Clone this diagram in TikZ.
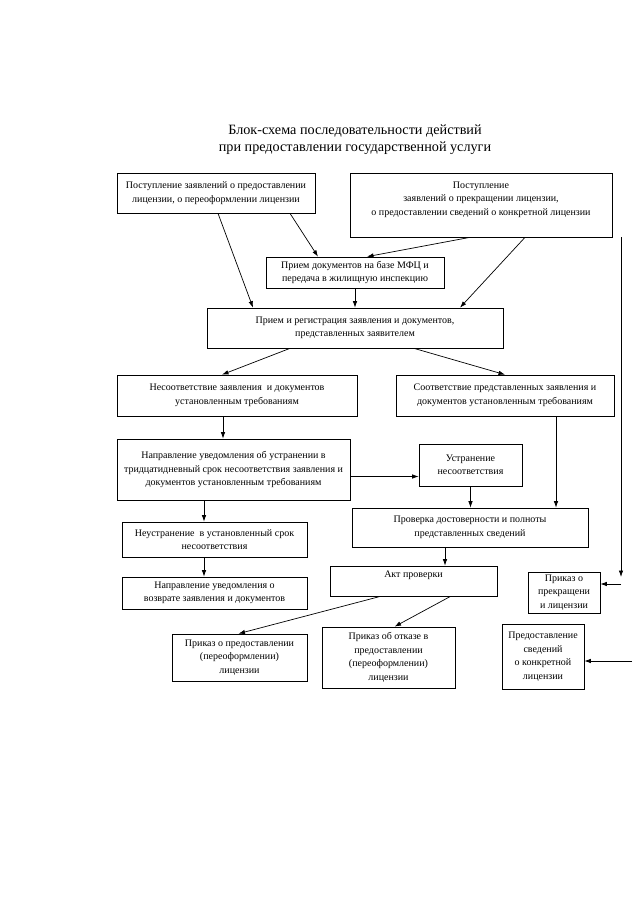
\documentclass[tikz,border=0pt]{standalone}
\usepackage{fontspec}
\setmainfont{Liberation Serif}
\usetikzlibrary{arrows,arrows.meta,positioning}

\begin{document}
\begin{tikzpicture}
[x=1pt,y=-1pt,>={Latex[length=6.5pt,width=4.5pt]},
 box/.style={draw=black,line width=0.7pt,align=center,inner sep=2pt,
    font=\fontsize{10}{13.5}\selectfont},
 arr/.style={->,line width=0.7pt}]
\useasboundingbox (0,0) rectangle (640,905);

\node (title) at (355,139.5) [align=center,font=\fontsize{14.2}{17}\selectfont]
{Блок-схема последовательности действий\\при предоставлении государственной услуги};

\node[box,minimum width=198,minimum height=40] (a1) at (216,193)
{Поступление заявлений о предоставлении\\лицензии, о переоформлении лицензии};
\node[box,minimum width=262,minimum height=64] (a2) at (481,205)
{Поступление\\заявлений о прекращении лицензии,\\о предоставлении сведений о конкретной лицензии\\ \mbox{}};
\node[box,minimum width=178,minimum height=31] (mfc) at (355,272.5)
{Прием документов на базе МФЦ и\\передача в жилищную инспекцию};
\node[box,minimum width=296,minimum height=40] (reg) at (355,328)
{Прием и регистрация заявления и документов,\\представленных заявителем};

\node[box,minimum width=240,minimum height=41] (no) at (237,395.5)
{Несоответствие заявления \ и документов\\установленным требованиям};
\node[box,minimum width=218,minimum height=41] (yes) at (505,395.5)
{Соответствие представленных заявления и\\документов установленным требованиям};
\node[box,minimum width=233,minimum height=61] (notif) at (233.5,469.5)
{Направление уведомления об устранении в\\тридцатидневный срок несоответствия заявления и\\документов установленным требованиям};
\node[box,minimum width=103,minimum height=42] (fix) at (470.5,465)
{Устранение\\несоответствия};
\node[box,minimum width=236,minimum height=39] (check) at (470,527.5)
{Проверка достоверности и полноты\\представленных сведений};
\node[box,minimum width=185,minimum height=35] (nofix) at (214.5,539.5)
{Неустранение \ в установленный срок\\несоответствия};
\node[box,minimum width=185,minimum height=32] (ret) at (214.5,593)
{Направление уведомления о\\возврате заявления и документов};
\node[box,minimum width=167,minimum height=30] (act) at (413.5,581)
{Акт проверки\\ \mbox{}};
\node[box,minimum width=72,minimum height=41] (stop) at (564,592.5)
{Приказ о\\прекращени\\и лицензии};
\node[box,minimum width=135,minimum height=47] (give) at (239.5,657.5)
{Приказ о предоставлении\\(переоформлении)\\лицензии};
\node[box,minimum width=133,minimum height=61] (deny) at (388.5,657.5)
{Приказ об отказе в\\предоставлении\\(переоформлении)\\лицензии};
\node[box,minimum width=82,minimum height=65] (info) at (543,656.5)
{Предоставление\\сведений\\о конкретной\\лицензии};

% free ends on the right
\coordinate (r1) at (621,577);
\coordinate (r2) at (621,584);
\coordinate (r3) at (632,661);

\draw [arr] ([xshift=2pt]a1.south) -- ([xshift=-102pt]reg.north);
\draw [arr] ([xshift=74pt]a1.south) -- ([xshift=-37pt]mfc.north);
\draw [arr] ([xshift=-11pt]a2.south) -- ([xshift=12pt]mfc.north);
\draw [arr] ([xshift=44pt]a2.south) -- ([xshift=105pt]reg.north);
\draw [arr] (mfc.south) -- (reg.north);
\draw [arr] ([xshift=-65pt]reg.south) -- ([xshift=-15pt]no.north);
\draw [arr] ([xshift=59pt]reg.south) -- (yes.north);
\draw [arr] ([xshift=-14pt]no.south) -- ([xshift=-14pt]no.south |- notif.north);
\draw [arr] ([yshift=-7pt]notif.east) -- ([yshift=-7pt]notif.east -| fix.west);
\draw [arr] (fix.south) -- (fix.south |- check.north);
\draw [arr] ([xshift=51pt]yes.south) -- ([xshift=51pt]yes.south |- check.north);
\draw [arr] ([xshift=-29.5pt]notif.south) -- ([xshift=-29.5pt]notif.south |- nofix.north);
\draw [arr] ([xshift=-10.5pt]nofix.south) -- ([xshift=-10.5pt]ret.north);
\draw [arr] ([xshift=-25pt]check.south) -- ([xshift=-25pt]check.south |- act.north);
\draw [arr] ([xshift=-33pt]act.south) -- ([xshift=-1pt]give.north);
\draw [arr] ([xshift=37pt]act.south) -- ([xshift=6pt]deny.north);
\draw [arr] (a2.south east -| r1) -- (r1);
\draw [arr] (r2) -- (r2 -| stop.east);
\draw [arr] (r3) -- (r3 -| info.east);
\end{tikzpicture}
\end{document}
